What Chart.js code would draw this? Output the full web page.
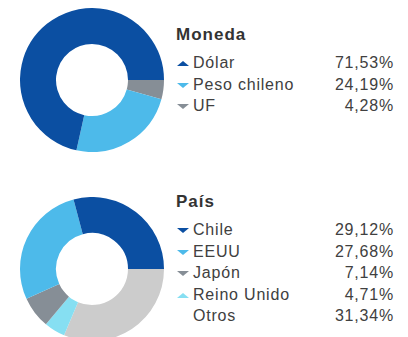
<!DOCTYPE html>
<html>
<head>
<meta charset="utf-8">
<script src="https://cdn.jsdelivr.net/npm/chart.js@4"></script>
<style>
  html, body { margin: 0; padding: 0; background: #fff; }
  body { width: 408px; height: 337px; overflow: hidden; position: relative;
         font-family: Arial, "Liberation Sans", sans-serif; }
  .pie { position: absolute; left: 20px; width: 144px; height: 144px; }
  .legend { position: absolute; left: 176px; width: 218px; color: #404040; }
  .legend h3 { margin: 0; font-size: 17px; font-weight: bold; color: #333;
               letter-spacing: 1px; height: 29px; line-height: 24px; }
  .row { position: relative; height: 21.6px; line-height: 21.6px; font-size: 16px;
         letter-spacing: 0.8px; padding-left: 17px; }
  .row .val { position: absolute; right: 0; top: 0; }
  .mark { position: absolute; left: 1px; top: 9px; width: 0; height: 0;
          border-left: 6px solid transparent; border-right: 6px solid transparent; }
</style>
</head>
<body>
<div class="pie" style="top:7.5px"><canvas id="monedaChart"></canvas></div>
<div class="legend" id="monedaLegend" style="top:23px"></div>
<div class="pie" style="top:197px"><canvas id="paisChart"></canvas></div>
<div class="legend" id="paisLegend" style="top:190px"></div>
<script>
const monedaLabels = ["Dólar", "Peso chileno", "UF"];
const monedaValues = [71.53, 24.19, 4.28];
const monedaColors = ["#0b4fa2", "#4dbaea", "#868e96"];
const monedaTrend = ["up", "down", "down"];

const paisLabels = ["Chile", "EEUU", "Japón", "Reino Unido", "Otros"];
const paisValues = [29.12, 27.68, 7.14, 4.71, 31.34];
const paisColors = ["#0b4fa2", "#4dbaea", "#868e96", "#86dff2", "#cccccc"];
const paisTrend = ["down", "down", "down", "up", ""];

function fmt(v) {
    return v.toFixed(2).replace(".", ",") + "%";
}

// small triangle next to each label, pointing up or down
function markHtml(dir, color) {
    if (!dir) return "";
    let side = dir === "up" ? "border-bottom" : "border-top";
    return '<span class="mark" style="' + side + ":5px solid " + color + '"></span>';
}

function buildLegend(id, title, labels, values, colors, trend) {
    let el = document.getElementById(id);
    let html = "<h3>" + title + "</h3>";
    labels.forEach(function (label, i) {
        html += '<div class="row">' + markHtml(trend[i], colors[i]) + label +
            '<span class="val">' + fmt(values[i]) + "</span></div>";
    });
    el.innerHTML = html;
}

// slices run counter-clockwise from 3 o'clock, so feed them reversed
function donut(id, labels, values, colors) {
    let ctx = document.getElementById(id).getContext("2d");
    new Chart(ctx, {
        type: "doughnut",
        data: {
            labels: labels.slice().reverse(),
            datasets: [{
                data: values.slice().reverse(),
                backgroundColor: colors.slice().reverse(),
                borderWidth: 0,
            }],
        },
        options: {
            responsive: true,
            maintainAspectRatio: false,
            animation: false,
            cutout: "50%",
            rotation: 90,
            layout: { padding: 0 },
            plugins: {
                legend: { display: false },
                tooltip: {
                    callbacks: {
                        label: function (c) { return c.label + " " + fmt(c.parsed); },
                    },
                },
            },
        },
    });
}

buildLegend("monedaLegend", "Moneda", monedaLabels, monedaValues, monedaColors, monedaTrend);
buildLegend("paisLegend", "País", paisLabels, paisValues, paisColors, paisTrend);
donut("monedaChart", monedaLabels, monedaValues, monedaColors);
donut("paisChart", paisLabels, paisValues, paisColors);
</script>
</body>
</html>
